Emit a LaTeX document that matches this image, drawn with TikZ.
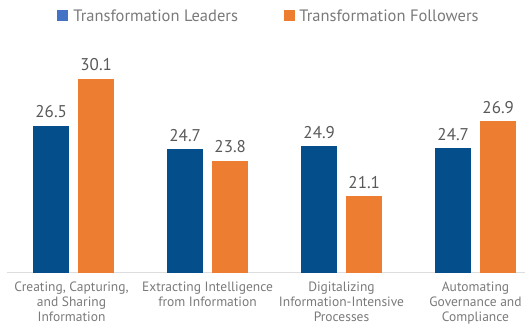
\documentclass[tikz,border=0pt]{standalone}
\usepackage{fontspec}
\setmainfont{PT Sans}
\usetikzlibrary{positioning}
\definecolor{leader}{HTML}{044E8C}
\definecolor{leaderkey}{HTML}{4472C4}
\definecolor{follower}{HTML}{ED7D31}
\definecolor{valgray}{HTML}{595959}
\definecolor{txtgray}{HTML}{7A7A7A}
\definecolor{axisgray}{HTML}{DDDDDD}
\begin{document}
\begin{tikzpicture}[x=1pt, y=1pt,
    bar/.style = {rectangle, inner sep=0pt, minimum width=36pt, anchor=south west},
    val/.style = {text=valgray, font=\fontsize{17}{19}\selectfont, label distance=4pt},
    cat/.style = {text=txtgray, font=\fontsize{13.5}{15}\selectfont, align=center, anchor=north, inner sep=2pt},
    key/.style = {rectangle, inner sep=0pt, minimum size=11pt},
    keytext/.style = {text=txtgray, font=\fontsize{16.5}{19}\selectfont, anchor=west, inner sep=0pt}]
      \useasboundingbox (0,0) rectangle (525,327);

      % legend
      \node[key, fill=leaderkey] (k1) at (62.5,311.5) {};
      \node[keytext] (t1) [right=5pt of k1] {Transformation Leaders};
      \node[key, fill=follower] (k2) at (289.5,311.5) {};
      \node[keytext] (t2) [right=4pt of k2] {Transformation Followers};

      % axis
      \coordinate (a0) at (7,54.3);
      \coordinate (a1) at (525,54.3);
      \draw[axisgray, line width=1pt] (a0) -- (a1);

      % bars
      \node[bar, fill=leader, minimum height=146.7pt, label={[val]above:26.5}] (l1) at (33,54.3) {};
      \node[bar, fill=follower, minimum height=193.7pt, label={[val]above:30.1}] (f1) at (78,54.3) {};
      \node[bar, fill=leader, minimum height=123.5pt, label={[val]above:24.7}] (l2) at (167,54.3) {};
      \node[bar, fill=follower, minimum height=111.8pt, label={[val]above:23.8}] (f2) at (212,54.3) {};
      \node[bar, fill=leader, minimum height=126.5pt, label={[val]above:24.9}] (l3) at (301,54.3) {};
      \node[bar, fill=follower, minimum height=76.5pt, label={[val]above:21.1}] (f3) at (346,54.3) {};
      \node[bar, fill=leader, minimum height=124pt, label={[val]above:24.7}] (l4) at (435,54.3) {};
      \node[bar, fill=follower, minimum height=151.5pt, label={[val]above:26.9}] (f4) at (480,54.3) {};

      % categories
      \node[cat] (c1) at (71.5,47) {Creating, Capturing,\\and Sharing\\Information};
      \node[cat] (c2) at (207.5,47) {Extracting Intelligence\\from Information};
      \node[cat] (c3) at (341.5,47) {Digitalizing\\Information-Intensive\\Processes};
      \node[cat] (c4) at (475.5,47) {Automating\\Governance and\\Compliance};
    \end{tikzpicture}
\end{document}
